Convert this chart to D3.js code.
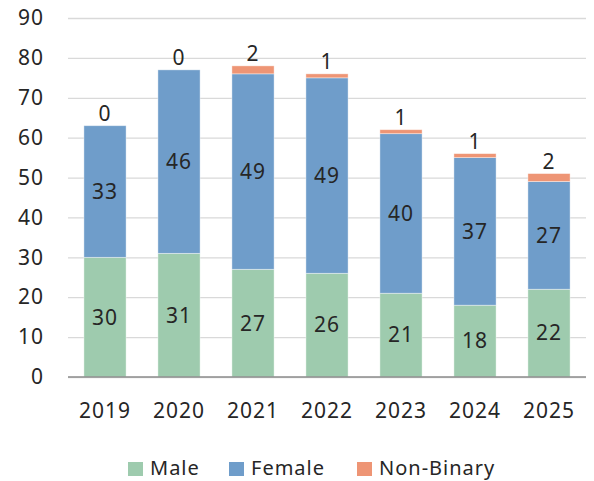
<!DOCTYPE html>
<html>
<head>
<meta charset="utf-8">
<script src="https://cdn.jsdelivr.net/npm/d3@7"></script>
<style>
  body { margin: 0; background: #fff; }
  svg text { font-family: "Noto Sans", "Open Sans", sans-serif; fill: #262626; letter-spacing: 1px; }
</style>
</head>
<body>
<div id="chart"></div>
<script>
// data
const years = ['2019', '2020', '2021', '2022', '2023', '2024', '2025'];
const male = [30, 31, 27, 26, 21, 18, 22];
const female = [33, 46, 49, 49, 40, 37, 27];
const nonBinary = [0, 0, 2, 1, 1, 1, 2];
const yTicks = [0, 10, 20, 30, 40, 50, 60, 70, 80, 90];
const seriesNames = ['Male', 'Female', 'Non-Binary'];

// dimensions
const WIDTH = 594;
const HEIGHT = 481;
const MARGIN_LEFT = 68;
const MARGIN_RIGHT = 8;
const MARGIN_TOP = 18;
const PLOT_BOTTOM = 377;
const FONT_SIZE = 21;

// colors
const COLORS = ['#9ecbae', '#6f9dca', '#ee9575'];

const rows = years.map((y, i) => ({
  year: y, Male: male[i], Female: female[i], 'Non-Binary': nonBinary[i]
}));
const stacked = d3.stack().keys(seriesNames)(rows);

const $svg = d3.select('#chart').append('svg')
  .attr('width', WIDTH)
  .attr('height', HEIGHT);

const scaleX = d3.scaleBand()
  .domain(years)
  .range([MARGIN_LEFT, WIDTH - MARGIN_RIGHT])
  .paddingInner(0.43)
  .paddingOuter(0.215);

const scaleY = d3.scaleLinear()
  .domain([0, 90])
  .range([PLOT_BOTTOM, MARGIN_TOP]);

// gridlines + y labels
$svg.append('g')
  .attr('transform', `translate(${MARGIN_LEFT},0)`)
  .call(d3.axisLeft(scaleY)
    .tickValues(yTicks)
    .tickSize(-(WIDTH - MARGIN_RIGHT - MARGIN_LEFT))
    .tickPadding(24))
  .call((g) => g.select('.domain').remove())
  .call((g) => g.selectAll('.tick line').attr('stroke', '#d9d9d9').attr('stroke-width', 1.3))
  .call((g) => g.selectAll('.tick text')
    .attr('font-size', FONT_SIZE)
    .attr('fill', '#262626'));

// bars
const $vis = $svg.append('g');
$vis.selectAll('.series')
  .data(stacked)
  .join('g')
  .attr('class', 'series')
  .attr('fill', (d, i) => COLORS[i])
  .selectAll('rect')
  .data((d) => d)
  .join('rect')
  .attr('x', (d) => scaleX(d.data.year))
  .attr('width', scaleX.bandwidth())
  .attr('y', (d) => scaleY(d[1]))
  .attr('height', (d) => scaleY(d[0]) - scaleY(d[1]))
  .attr('stroke', '#fff')
  .attr('stroke-opacity', 0.5)
  .attr('stroke-width', 0.8);

// x axis
$svg.append('g')
  .attr('transform', `translate(0,${PLOT_BOTTOM})`)
  .call(d3.axisBottom(scaleX).tickSize(0).tickPadding(26))
  .call((g) => g.select('.domain').attr('stroke', '#8c8c8c').attr('stroke-width', 1.3)
    .attr('d', `M${MARGIN_LEFT},0H${WIDTH - MARGIN_RIGHT}`))
  .call((g) => g.selectAll('.tick text').attr('font-size', FONT_SIZE).attr('fill', '#262626'));

// labels inside male + female segments
stacked.slice(0, 2).forEach((s) => {
  $vis.selectAll(null)
    .data(s)
    .join('text')
    .attr('x', (d) => scaleX(d.data.year) + scaleX.bandwidth() / 2)
    .attr('y', (d) => scaleY((d[0] + d[1]) / 2))
    .attr('dy', '0.35em')
    .attr('text-anchor', 'middle')
    .attr('font-size', FONT_SIZE)
    .text((d) => d[1] - d[0]);
});

// non-binary labels above bars
$vis.selectAll(null)
  .data(stacked[2])
  .join('text')
  .attr('x', (d) => scaleX(d.data.year) + scaleX.bandwidth() / 2)
  .attr('y', (d) => scaleY(d[1]) - 5)
  .attr('text-anchor', 'middle')
  .attr('font-size', FONT_SIZE)
  .text((d) => d[1] - d[0]);

// legend
const legendX = [128, 229, 357];
const $legend = $svg.append('g');
seriesNames.forEach((name, i) => {
  const $item = $legend.append('g').attr('transform', `translate(${legendX[i]},462)`);
  $item.append('rect').attr('width', 15).attr('height', 14).attr('fill', COLORS[i]);
  $item.append('text').attr('x', 22).attr('y', 13)
    .attr('font-size', 20).text(name);
});
</script>
</body>
</html>
